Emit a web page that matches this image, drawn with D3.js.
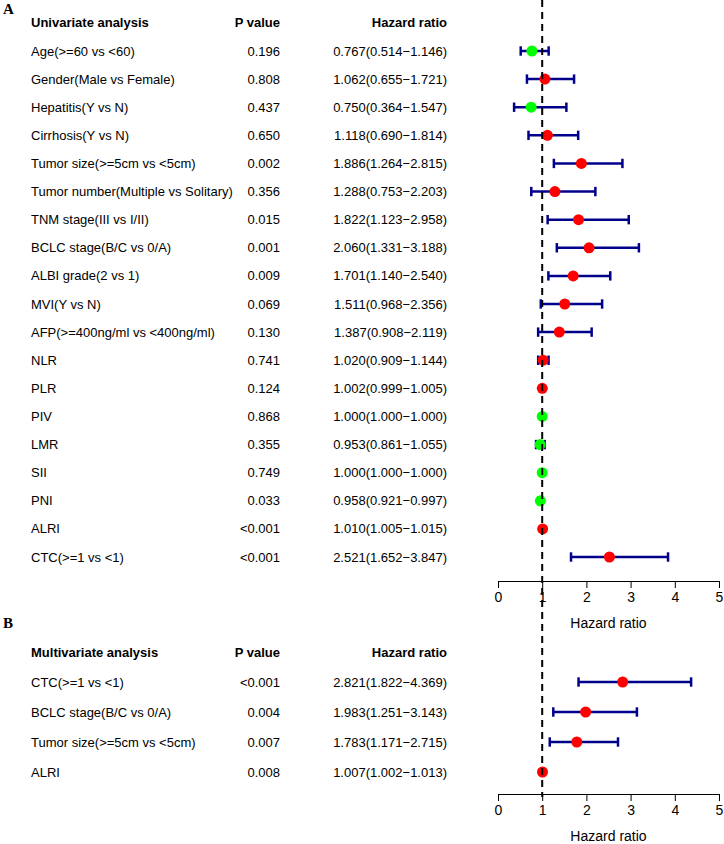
<!DOCTYPE html>
<html>
<head>
<meta charset="utf-8">
<script src="https://cdn.jsdelivr.net/npm/d3@7"></script>
<style>
  body { margin: 0; background: #fff; }
  svg { display: block; font-family: "Liberation Sans", Arial, sans-serif; }
</style>
</head>
<body>
<figure id="forest" style="margin:0"></figure>
<script>
// Univariate analysis (panel A)
const uniLabels = ["Age(>=60 vs <60)", "Gender(Male vs Female)", "Hepatitis(Y vs N)", "Cirrhosis(Y vs N)",
  "Tumor size(>=5cm vs <5cm)", "Tumor number(Multiple vs Solitary)", "TNM stage(III vs I/II)",
  "BCLC stage(B/C vs 0/A)", "ALBI grade(2 vs 1)", "MVI(Y vs N)", "AFP(>=400ng/ml vs <400ng/ml)",
  "NLR", "PLR", "PIV", "LMR", "SII", "PNI", "ALRI", "CTC(>=1 vs <1)"];
const uniP = ["0.196", "0.808", "0.437", "0.650", "0.002", "0.356", "0.015", "0.001", "0.009", "0.069",
  "0.130", "0.741", "0.124", "0.868", "0.355", "0.749", "0.033", "<0.001", "<0.001"];
const uniHR = [0.767, 1.062, 0.750, 1.118, 1.886, 1.288, 1.822, 2.060, 1.701, 1.511, 1.387, 1.020, 1.002, 1.000, 0.953, 1.000, 0.958, 1.010, 2.521];
const uniLow = [0.514, 0.655, 0.364, 0.690, 1.264, 0.753, 1.123, 1.331, 1.140, 0.968, 0.908, 0.909, 0.999, 1.000, 0.861, 1.000, 0.921, 1.005, 1.652];
const uniHigh = [1.146, 1.721, 1.547, 1.814, 2.815, 2.203, 2.958, 3.188, 2.540, 2.356, 2.119, 1.144, 1.005, 1.000, 1.055, 1.000, 0.997, 1.015, 3.847];

// Multivariate analysis (panel B)
const multiLabels = ["CTC(>=1 vs <1)", "BCLC stage(B/C vs 0/A)", "Tumor size(>=5cm vs <5cm)", "ALRI"];
const multiP = ["<0.001", "0.004", "0.007", "0.008"];
const multiHR = [2.821, 1.983, 1.783, 1.007];
const multiLow = [1.822, 1.251, 1.171, 1.002];
const multiHigh = [4.369, 3.143, 2.715, 1.013];

const axisTicks = [0, 1, 2, 3, 4, 5];

const width = 724, height = 844;
const fontSize = 13;
const barColor = "#00008B";

const svg = d3.select("figure#forest").append("svg")
  .attr("width", width).attr("height", height);

const x = d3.scaleLinear().domain([0, 5]).range([498, 719]);

function fmt(v) { return v.toFixed(3); }

function drawPanel(opt) {
  const n = opt.labels.length;
  const rows = d3.range(n).map(i => ({
    idx: i, label: opt.labels[i], p: opt.p[i], hr: opt.hr[i], lo: opt.lo[i], hi: opt.hi[i]
  }));
  const y = d3.scalePoint().domain(d3.range(n)).range([opt.top, opt.bottom]);

  const g = svg.append("g");

  // panel letter
  g.append("text")
    .attr("x", 3).attr("y", opt.letterY)
    .attr("dy", "0.35em")
    .style("font-family", "'Liberation Serif', 'Times New Roman', serif")
    .style("font-weight", "bold")
    .style("font-size", "15px")
    .text(opt.letter);

  // headers
  const head = g.append("g").style("font-weight", "bold").style("font-size", fontSize + "px");
  head.append("text").attr("x", 31).attr("y", opt.headY).attr("dy", "0.35em").text(opt.title);
  head.append("text").attr("x", 280).attr("y", opt.headY).attr("dy", "0.35em")
    .attr("text-anchor", "end").text("P value");
  head.append("text").attr("x", 447).attr("y", opt.headY).attr("dy", "0.35em")
    .attr("text-anchor", "end").text("Hazard ratio");

  const row = g.selectAll("g.row").data(rows).enter().append("g")
    .attr("class", "row")
    .style("font-size", fontSize + "px");
  row.append("text").attr("x", 31).attr("y", d => y(d.idx)).attr("dy", "0.35em").text(d => d.label);
  row.append("text").attr("x", 280).attr("y", d => y(d.idx)).attr("dy", "0.35em")
    .attr("text-anchor", "end").text(d => d.p);
  row.append("text").attr("x", 447).attr("y", d => y(d.idx)).attr("dy", "0.35em")
    .attr("text-anchor", "end").text(d => fmt(d.hr) + "(" + fmt(d.lo) + "\u2212" + fmt(d.hi) + ")");

  // error bars with end caps
  const bars = g.selectAll("g.bar").data(rows.filter(d => d.hi > d.lo)).enter().append("g")
    .attr("class", "bar")
    .attr("stroke", barColor).attr("stroke-width", 2.5).attr("fill", "none");
  bars.append("line")
    .attr("x1", d => x(d.lo)).attr("x2", d => x(d.hi))
    .attr("y1", d => y(d.idx)).attr("y2", d => y(d.idx));
  bars.append("line")
    .attr("x1", d => x(d.lo)).attr("x2", d => x(d.lo))
    .attr("y1", d => y(d.idx) - 4.7).attr("y2", d => y(d.idx) + 4.7);
  bars.append("line")
    .attr("x1", d => x(d.hi)).attr("x2", d => x(d.hi))
    .attr("y1", d => y(d.idx) - 4.7).attr("y2", d => y(d.idx) + 4.7);

  // axis
  const axis = g.append("g")
    .attr("transform", "translate(0," + opt.axisY + ")")
    .call(d3.axisBottom(x).tickValues(axisTicks).tickFormat(d3.format("d"))
      .tickSize(7).tickSizeOuter(0).tickPadding(4));
  axis.selectAll("text").style("font-size", "14px")
    .style("font-family", "'Liberation Sans', Arial, sans-serif");
  axis.selectAll("line,path").attr("stroke", "#000").attr("stroke-width", 1);

  g.append("text")
    .attr("x", x(2.5)).attr("y", opt.axisY + 42).attr("dy", "0.35em")
    .attr("text-anchor", "middle")
    .style("font-size", "14px")
    .text("Hazard ratio");

  return { g, rows, y };
}

const panelA = drawPanel({
  letter: "A", letterY: 9, title: "Univariate analysis", headY: 22,
  labels: uniLabels, p: uniP, hr: uniHR, lo: uniLow, hi: uniHigh,
  top: 51, bottom: 557, axisY: 581
});
const panelB = drawPanel({
  letter: "B", letterY: 623, title: "Multivariate analysis", headY: 652,
  labels: multiLabels, p: multiP, hr: multiHR, lo: multiLow, hi: multiHigh,
  top: 682, bottom: 772, axisY: 794
});

// reference line at HR = 1
svg.append("line")
  .attr("x1", x(1)).attr("x2", x(1))
  .attr("y1", 0).attr("y2", 797)
  .attr("stroke", "#000").attr("stroke-width", 2)
  .attr("stroke-dasharray", "7,5");

// points on top
[panelA, panelB].forEach(p => {
  p.g.selectAll("circle.pt").data(p.rows).enter().append("circle")
    .attr("class", "pt")
    .attr("cx", d => x(d.hr))
    .attr("cy", d => p.y(d.idx))
    .attr("r", 5.5)
    .attr("fill", d => d.hr > 1 ? "#FF0000" : "#00FF00");
});
</script>
</body>
</html>
